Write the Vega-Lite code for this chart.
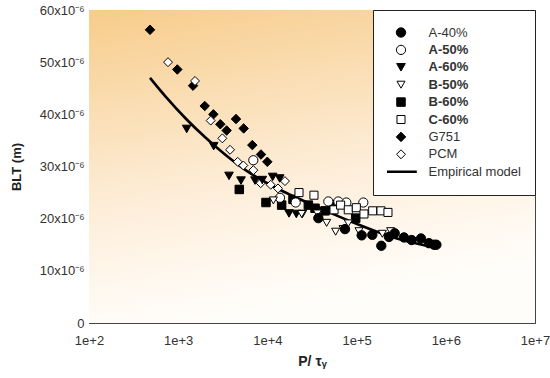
{
  "$schema": "https://vega.github.io/schema/vega-lite/v6.json",
  "width": 446,
  "height": 313,
  "autosize": {"type": "none"},
  "padding": {"left": 89, "top": 10, "right": 15, "bottom": 55},
  "background": "white",
  "config": {
    "font": "Liberation Sans",
    "view": {"stroke": "#444", "strokeWidth": 1}
  },
  "datasets": {
    "model": [
      {"x": 483, "y": 47.0}, {"x": 723, "y": 43.4}, {"x": 1214, "y": 39.2}, {"x": 2033, "y": 35.5},
      {"x": 3404, "y": 32.2}, {"x": 5700, "y": 29.3}, {"x": 10420, "y": 26.6}, {"x": 20750, "y": 24.1},
      {"x": 41300, "y": 21.8}, {"x": 82200, "y": 19.6}, {"x": 163700, "y": 17.6}, {"x": 325900, "y": 15.9},
      {"x": 738000, "y": 14.5}
    ],
    "points": [
      {"series": "G751", "x": 483, "y": 56.2}, {"series": "G751", "x": 977, "y": 48.6}, {"series": "G751", "x": 1466, "y": 45.5},
      {"series": "G751", "x": 1982, "y": 41.6}, {"series": "G751", "x": 2478, "y": 40.0}, {"series": "G751", "x": 2966, "y": 38.1},
      {"series": "G751", "x": 3493, "y": 36.9}, {"series": "G751", "x": 4446, "y": 39.1}, {"series": "G751", "x": 5420, "y": 37.3},
      {"series": "G751", "x": 6776, "y": 34.1}, {"series": "G751", "x": 8472, "y": 32.3}, {"series": "G751", "x": 9976, "y": 30.9},
      {"series": "PCM", "x": 769, "y": 50.0}, {"series": "PCM", "x": 1543, "y": 46.4}, {"series": "PCM", "x": 2312, "y": 38.8},
      {"series": "PCM", "x": 3126, "y": 35.4}, {"series": "PCM", "x": 3813, "y": 33.2}, {"series": "PCM", "x": 4645, "y": 30.9},
      {"series": "PCM", "x": 5373, "y": 30.2}, {"series": "PCM", "x": 6955, "y": 29.3}, {"series": "PCM", "x": 8405, "y": 26.8},
      {"series": "PCM", "x": 10880, "y": 26.5}, {"series": "PCM", "x": 13150, "y": 25.8}, {"series": "PCM", "x": 15740, "y": 27.2},
      {"series": "A-60%", "x": 1245, "y": 37.2}, {"series": "A-60%", "x": 2500, "y": 33.9}, {"series": "A-60%", "x": 3715, "y": 28.2},
      {"series": "A-60%", "x": 5058, "y": 27.3}, {"series": "A-60%", "x": 7263, "y": 27.3}, {"series": "A-60%", "x": 8770, "y": 27.4},
      {"series": "A-60%", "x": 11450, "y": 28.0}, {"series": "A-60%", "x": 13730, "y": 27.7}, {"series": "A-60%", "x": 17470, "y": 21.0},
      {"series": "A-60%", "x": 21100, "y": 20.9}, {"series": "A-60%", "x": 24640, "y": 20.9},
      {"series": "B-60%", "x": 4842, "y": 25.6}, {"series": "B-60%", "x": 9640, "y": 23.1}, {"series": "B-60%", "x": 14450, "y": 22.6},
      {"series": "B-60%", "x": 19370, "y": 23.7}, {"series": "B-60%", "x": 28770, "y": 22.6}, {"series": "B-60%", "x": 34200, "y": 22.0},
      {"series": "B-60%", "x": 44270, "y": 21.5}, {"series": "B-60%", "x": 53460, "y": 22.7}, {"series": "B-60%", "x": 97700, "y": 20.1},
      {"series": "A-50%", "x": 6950, "y": 31.2}, {"series": "A-50%", "x": 13830, "y": 24.0}, {"series": "A-50%", "x": 20750, "y": 23.1},
      {"series": "A-50%", "x": 48200, "y": 23.3}, {"series": "A-50%", "x": 62370, "y": 23.3}, {"series": "A-50%", "x": 76700, "y": 23.1},
      {"series": "A-50%", "x": 119000, "y": 23.1},
      {"series": "C-60%", "x": 22600, "y": 25.0}, {"series": "C-60%", "x": 33270, "y": 24.5}, {"series": "C-60%", "x": 55850, "y": 21.7},
      {"series": "C-60%", "x": 66200, "y": 22.6}, {"series": "C-60%", "x": 80700, "y": 21.7}, {"series": "C-60%", "x": 99300, "y": 22.1},
      {"series": "C-60%", "x": 121000, "y": 20.9}, {"series": "C-60%", "x": 151500, "y": 21.5}, {"series": "C-60%", "x": 187700, "y": 21.5},
      {"series": "C-60%", "x": 224700, "y": 21.2},
      {"series": "B-50%", "x": 11670, "y": 23.5}, {"series": "B-50%", "x": 24200, "y": 20.9}, {"series": "B-50%", "x": 36300, "y": 21.0},
      {"series": "B-50%", "x": 46150, "y": 19.2}, {"series": "B-50%", "x": 58200, "y": 17.5}, {"series": "B-50%", "x": 70400, "y": 18.0},
      {"series": "B-50%", "x": 80700, "y": 19.1}, {"series": "B-50%", "x": 106400, "y": 17.6}, {"series": "B-50%", "x": 194400, "y": 17.1},
      {"series": "B-50%", "x": 241000, "y": 17.6},
      {"series": "A-40%", "x": 37240, "y": 20.1}, {"series": "A-40%", "x": 74130, "y": 18.0}, {"series": "A-40%", "x": 114000, "y": 16.8},
      {"series": "A-40%", "x": 150000, "y": 16.9}, {"series": "A-40%", "x": 189200, "y": 14.8}, {"series": "A-40%", "x": 230700, "y": 16.5},
      {"series": "A-40%", "x": 267200, "y": 17.2}, {"series": "A-40%", "x": 339700, "y": 16.4}, {"series": "A-40%", "x": 414000, "y": 15.9},
      {"series": "A-40%", "x": 527000, "y": 16.2}, {"series": "A-40%", "x": 648000, "y": 15.3}, {"series": "A-40%", "x": 738000, "y": 15.0},
      {"series": "A-40%", "x": 784000, "y": 15.0}
    ]
  },
  "layer": [
    {
      "data": {"values": [{"bg": 1}]},
      "mark": {
        "type": "rect",
        "fill": {
          "gradient": "linear", "x1": 0, "y1": 0, "x2": 0.25, "y2": 1,
          "stops": [
            {"offset": 0, "color": "#F7CC8A"},
            {"offset": 0.3, "color": "#FADDB2"},
            {"offset": 0.6, "color": "#FDEDD8"},
            {"offset": 0.85, "color": "#FFF8EF"},
            {"offset": 1, "color": "#FFFDFA"}
          ]
        }
      },
      "encoding": {}
    },
    {
      "data": {"name": "model"},
      "mark": {"type": "line", "color": "black", "strokeWidth": 2.6, "interpolate": "monotone"},
      "encoding": {
        "x": {
          "field": "x", "type": "quantitative",
          "scale": {"type": "log", "domain": [100, 10000000], "nice": false},
          "axis": {
            "orient": "bottom", "title": "P/ τᵧ", "titleFontSize": 14, "titleFontWeight": "bold", "titleColor": "#222", "titlePadding": 4,
            "domain": false, "grid": false,
            "values": [100,200,300,400,500,600,700,800,900,1000,2000,3000,4000,5000,6000,7000,8000,9000,10000,20000,30000,40000,50000,60000,70000,80000,90000,100000,200000,300000,400000,500000,600000,700000,800000,900000,1000000,2000000,3000000,4000000,5000000,6000000,7000000,8000000,9000000,10000000],
            "tickColor": "#444",
            "tickSize": {"condition": {"test": "abs(log(datum.value)/LN10 - round(log(datum.value)/LN10)) < 0.001", "value": -7}, "value": -4},
            "labelExpr": "abs(log(datum.value)/LN10 - round(log(datum.value)/LN10)) < 0.001 ? '1e+' + round(log(datum.value)/LN10) : ''",
            "labelPadding": 18, "labelFontSize": 13, "labelColor": "#333", "labelFlush": false, "labelOverlap": false
          }
        },
        "y": {
          "field": "y", "type": "quantitative",
          "scale": {"domain": [0, 60], "nice": false},
          "axis": {
            "orient": "left", "title": "BLT (m)", "titleFontSize": 13, "titleFontWeight": "bold", "titleColor": "#222", "titlePadding": 16,
            "domain": false, "grid": false,
            "values": [0,2,4,6,8,10,12,14,16,18,20,22,24,26,28,30,32,34,36,38,40,42,44,46,48,50,52,54,56,58,60],
            "tickColor": "#444",
            "tickSize": {"condition": {"test": "datum.value % 10 == 0", "value": -7}, "value": -4},
            "labelExpr": "datum.value % 10 == 0 ? (datum.value == 0 ? '0' : datum.value + 'x10⁻⁶') : ''",
            "labelPadding": 12, "labelFontSize": 13, "labelColor": "#333", "labelFlush": false, "labelOverlap": false
          }
        }
      }
    },
    {
      "data": {"name": "points"},
      "mark": {"type": "point", "filled": true, "stroke": "black", "strokeWidth": 1, "opacity": 1},
      "encoding": {
        "x": {
          "field": "x", "type": "quantitative",
          "axis": {
            "orient": "top", "title": null, "labels": false, "domain": false, "grid": false,
            "values": [100,200,300,400,500,600,700,800,900,1000,2000,3000,4000,5000,6000,7000,8000,9000,10000,20000,30000,40000,50000,60000,70000,80000,90000,100000,200000,300000,400000,500000,600000,700000,800000,900000,1000000,2000000,3000000,4000000,5000000,6000000,7000000,8000000,9000000,10000000],
            "tickColor": "#444",
            "tickSize": {"condition": {"test": "abs(log(datum.value)/LN10 - round(log(datum.value)/LN10)) < 0.001", "value": -7}, "value": -4}
          }
        },
        "y": {
          "field": "y", "type": "quantitative",
          "axis": {
            "orient": "right", "title": null, "labels": false, "domain": false, "grid": false,
            "values": [0,2,4,6,8,10,12,14,16,18,20,22,24,26,28,30,32,34,36,38,40,42,44,46,48,50,52,54,56,58,60],
            "tickColor": "#444",
            "tickSize": {"condition": {"test": "datum.value % 10 == 0", "value": -7}, "value": -4}
          }
        },
        "shape": {
          "field": "series", "type": "nominal", "title": "Series",
          "scale": {
            "domain": ["A-40%", "A-50%", "A-60%", "B-50%", "B-60%", "C-60%", "G751", "PCM", "Empirical model"],
            "range": ["circle", "circle", "triangle-down", "triangle-down", "square", "square", "diamond", "diamond", "stroke"]
          },
          "legend": {
            "title": null, "orient": "top-right", "offset": 0, "padding": 14,
            "fillColor": "white", "strokeColor": "#222",
            "labelFontSize": 13, "labelColor": "#333", "labelOffset": 21, "symbolOffset": 7.5,
            "labelFontWeight": {"expr": "indexof(['A-50%','A-60%','B-50%','B-60%','C-60%'], datum.label) >= 0 ? 'bold' : 'normal'"},
            "symbolStrokeColor": "black",
            "symbolStrokeWidth": {"expr": "datum.value == 'Empirical model' ? 2.6 : 1"},
            "symbolOpacity": 1,
            "clipHeight": 17, "rowPadding": 0.4
          }
        },
        "fill": {
          "field": "series", "type": "nominal", "title": "Series",
          "scale": {
            "domain": ["A-40%", "A-50%", "A-60%", "B-50%", "B-60%", "C-60%", "G751", "PCM", "Empirical model"],
            "range": ["black", "white", "black", "white", "black", "white", "black", "white", "black"]
          }
        },
        "size": {
          "field": "series", "type": "nominal", "title": "Series",
          "scale": {
            "type": "ordinal",
            "domain": ["A-40%", "A-50%", "A-60%", "B-50%", "B-60%", "C-60%", "G751", "PCM", "Empirical model"],
            "range": [88, 85, 75, 65, 72, 65, 90, 80, 1000]
          }
        }
      }
    }
  ],
  "resolve": {"axis": {"x": "independent", "y": "independent"}}
}
